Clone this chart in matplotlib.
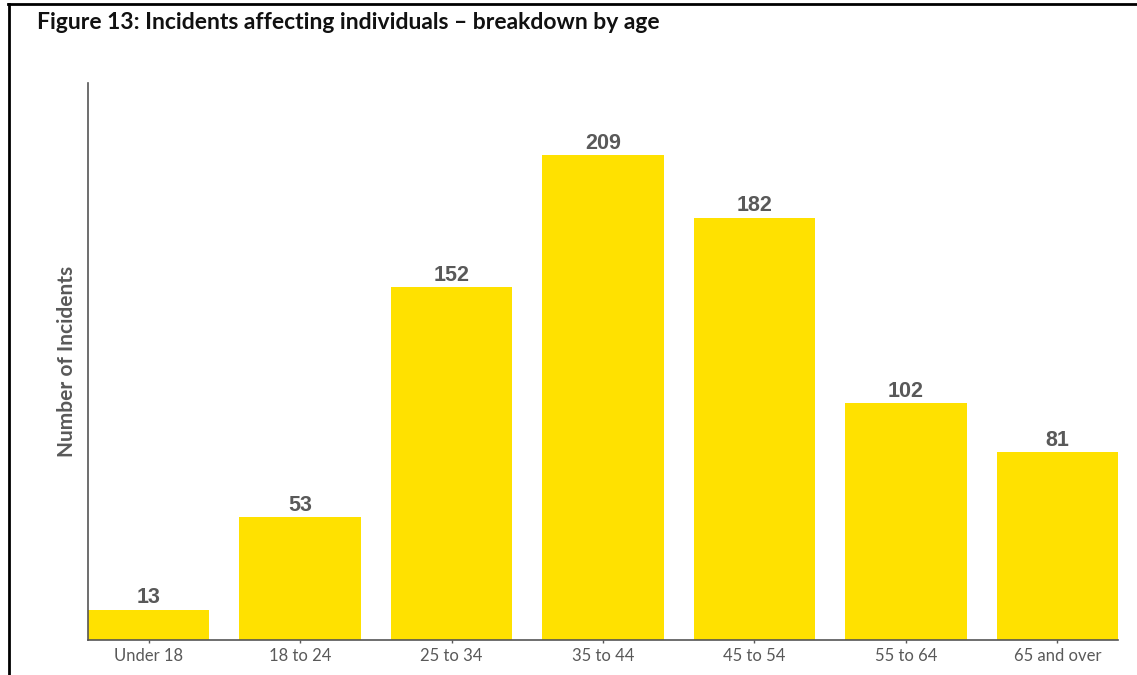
import matplotlib
matplotlib.use("Agg")
import matplotlib.pyplot as plt
from matplotlib.lines import Line2D

# Age bands and incident counts
age_groups = ["Under 18", "18 to 24", "25 to 34", "35 to 44", "45 to 54", "55 to 64", "65 and over"]
incidents = [13, 53, 152, 209, 182, 102, 81]

BAR_COLOR = "#FFE100"
TEXT_GREY = "#595959"
LABEL_FONT = ["Lato", "DejaVu Sans"]

fig = plt.figure(figsize=(11.37, 6.75), dpi=100)
ax = fig.add_axes([0.0774, 0.0519, 0.9059, 0.8251])

x = range(len(age_groups))
bars = ax.bar(x, incidents, width=0.8, color=BAR_COLOR, zorder=2)

# value labels above each bar
for rect, val in zip(bars, incidents):
    ax.annotate(str(val), (rect.get_x() + rect.get_width() / 2, rect.get_height()),
                xytext=(0, 1), textcoords="offset points", ha="center", va="bottom",
                fontsize=15.5, fontweight="bold", color=TEXT_GREY,
                family=["Liberation Sans", "DejaVu Sans"])

ax.set_xlim(-0.4, 6.4)
ax.set_ylim(0, 240)
ax.set_xticks(list(x))
ax.set_xticklabels(age_groups, fontsize=12, color=TEXT_GREY, family=LABEL_FONT)
ax.tick_params(axis="x", length=2.5, width=1, color=TEXT_GREY, pad=3)
ax.set_yticks([])

for side in ("top", "right"):
    ax.spines[side].set_visible(False)
for side in ("left", "bottom"):
    ax.spines[side].set_color("#555555")
    ax.spines[side].set_linewidth(1.2)

ax.set_ylabel("Number of Incidents", fontsize=15, color=TEXT_GREY, family=LABEL_FONT,
              fontweight="bold", labelpad=8)

fig.text(0.0325, 0.966, "Figure 13: Incidents affecting individuals \u2013 breakdown by age",
         fontsize=16.5, fontweight="bold", color="#111111", family=LABEL_FONT,
         ha="left", va="center")

# outer frame: left and top rules
fig.add_artist(Line2D([0.008, 0.008], [0.0, 0.9935], transform=fig.transFigure,
                      color="black", linewidth=2))
fig.add_artist(Line2D([0.007, 1.0], [0.9935, 0.9935], transform=fig.transFigure,
                      color="black", linewidth=2))

fig.savefig("out.png", dpi=100)
